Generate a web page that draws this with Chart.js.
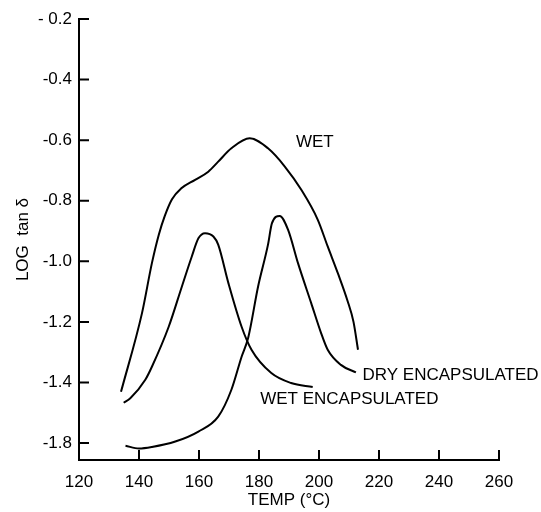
<!DOCTYPE html>
<html>
<head>
<meta charset="utf-8">
<script src="https://cdn.jsdelivr.net/npm/chart.js@4/dist/chart.umd.min.js"></script>
<style>
  html, body { margin: 0; padding: 0; background: #fff; }
  #wrap { width: 541px; height: 512px; }
</style>
</head>
<body>
<div id="wrap"><canvas id="tanChart"></canvas></div>
<script>
'use strict';

//Loss tangent data, temperature in degrees C
const wetTemp = [134.0, 141.0, 144.3, 146.6, 148.6, 151.0, 154.0, 158.7, 163.1, 166.4, 170.8, 176.9, 183.0, 188.6, 194.1, 199.6, 202.9, 206.5, 209.5, 211.5, 213.0];
const wetLog = [-1.431, -1.171, -1.006, -0.912, -0.850, -0.795, -0.760, -0.731, -0.704, -0.671, -0.627, -0.594, -0.627, -0.687, -0.764, -0.863, -0.951, -1.045, -1.130, -1.200, -1.292];

const wetEncTemp = [134.9, 137.1, 142.1, 144.3, 149.9, 154.3, 157.6, 159.8, 162.0, 164.8, 166.4, 169.8, 174.2, 177.5, 184.1, 190.7, 197.9];
const wetEncLog = [-1.467, -1.452, -1.391, -1.348, -1.216, -1.083, -0.984, -0.924, -0.907, -0.918, -0.945, -1.072, -1.216, -1.292, -1.369, -1.402, -1.415];

const dryEncTemp = [135.5, 140.0, 144.3, 152.1, 159.8, 166.4, 170.8, 174.2, 176.4, 179.7, 183.0, 184.3, 186.9, 189.7, 193.0, 197.4, 200.7, 202.9, 207.3, 212.3];
const dryEncLog = [-1.609, -1.618, -1.613, -1.595, -1.562, -1.513, -1.424, -1.315, -1.252, -1.083, -0.945, -0.875, -0.850, -0.896, -1.006, -1.138, -1.237, -1.292, -1.342, -1.367];

//Axis ticks (labels as printed on the original plot)
const xTicks = [120, 140, 160, 180, 200, 220, 240, 260];
const yTicks = [-0.2, -0.4, -0.6, -0.8, -1.0, -1.2, -1.4, -1.6];
const yTickLabels = ['- 0.2', '-0.4', '-0.6', '-0.8', '-1.0', '-1.2', '-1.4', '-1.8'];

//Curve names and where their labels sit (temp, log tan)
const curveNames = ['WET', 'WET ENCAPSULATED', 'DRY ENCAPSULATED'];
const labelTemp = [192.3, 180.4, 214.5];
const labelLog = [-0.606, -1.457, -1.375];

const font = 'Liberation Sans, Arial, sans-serif';

function toPoints(xs, ys) {
  return xs.map((x, i) => ({ x: x, y: ys[i] }));
}

function curve(label, xs, ys) {
  return {
    label: label,
    data: toPoints(xs, ys),
    borderColor: '#000',
    borderWidth: 2,
    pointRadius: 0,
    fill: false,
    cubicInterpolationMode: 'monotone',
  };
}

//Inward tick marks and the curve labels
const plotMarks = {
  id: 'plotMarks',
  afterDatasetsDraw(chart) {
    const ctx = chart.ctx;
    const xs = chart.scales.x;
    const ys = chart.scales.y;
    ctx.save();
    ctx.strokeStyle = '#000';
    ctx.lineWidth = 2;
    ctx.beginPath();
    xTicks.forEach((v) => {
      if (v === xs.min) return;
      const px = xs.getPixelForValue(v);
      ctx.moveTo(px, ys.bottom);
      ctx.lineTo(px, ys.bottom - 10);
    });
    yTicks.forEach((v) => {
      const py = ys.getPixelForValue(v);
      ctx.moveTo(xs.left, py);
      ctx.lineTo(xs.left + 10, py);
    });
    ctx.stroke();

    ctx.fillStyle = '#000';
    ctx.font = '17px ' + font;
    ctx.textAlign = 'left';
    ctx.textBaseline = 'middle';
    curveNames.forEach((name, i) => {
      ctx.fillText(name, xs.getPixelForValue(labelTemp[i]), ys.getPixelForValue(labelLog[i]));
    });
    ctx.restore();
  },
};

const tanData = {
  datasets: [
    curve(curveNames[0], wetTemp, wetLog),
    curve(curveNames[1], wetEncTemp, wetEncLog),
    curve(curveNames[2], dryEncTemp, dryEncLog),
  ],
};

const tanConfig = {
  type: 'line',
  data: tanData,
  options: {
    responsive: true,
    maintainAspectRatio: false,
    animation: false,
    layout: { padding: { left: 0, right: 42, top: 19, bottom: 0 } },
    plugins: {
      legend: { display: false },
      tooltip: { enabled: false },
    },
    scales: {
      x: {
        type: 'linear',
        min: 120,
        max: 260,
        afterBuildTicks: (scale) => { scale.ticks = xTicks.map((v) => ({ value: v })); },
        afterFit: (scale) => { scale.height = 52; },
        border: { display: true, color: '#000', width: 2 },
        grid: { display: false, drawTicks: false },
        ticks: {
          color: '#000',
          padding: 12,
          maxRotation: 0,
          font: { family: font, size: 17 },
        },
        title: {
          display: true,
          text: 'TEMP (°C)',
          color: '#000',
          padding: { top: 0, bottom: 1 },
          font: { family: font, size: 17 },
        },
      },
      y: {
        type: 'linear',
        min: -1.656,
        max: -0.2,
        afterBuildTicks: (scale) => { scale.ticks = yTicks.map((v) => ({ value: v })); },
        afterFit: (scale) => { scale.width = 79; },
        border: { display: true, color: '#000', width: 2 },
        grid: { display: false, drawTicks: false },
        ticks: {
          color: '#000',
          padding: 7,
          font: { family: font, size: 17 },
          callback: (value, index) => yTickLabels[index],
        },
        title: {
          display: true,
          text: 'LOG  tan δ',
          color: '#000',
          padding: { top: 13, bottom: 0 },
          font: { family: font, size: 17 },
        },
      },
    },
  },
  plugins: [plotMarks],
};

const tanChart = new Chart(document.getElementById('tanChart'), tanConfig);
</script>
</body>
</html>
